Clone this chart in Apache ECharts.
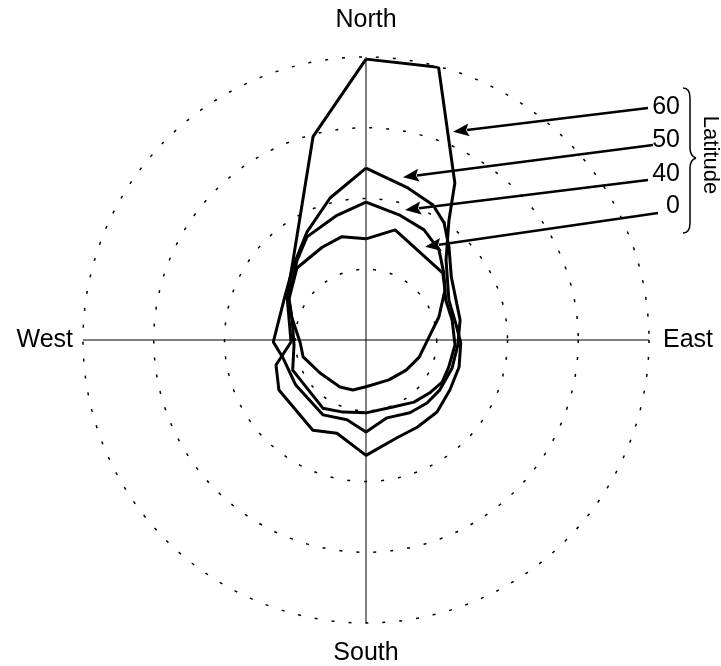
<!DOCTYPE html>
<html>
<head>
<meta charset="utf-8">
<script src="https://cdn.jsdelivr.net/npm/echarts@6/dist/echarts.min.js"></script>
<style>html,body{margin:0;padding:0;background:#fff;}#c{width:721px;height:666px;}</style>
</head>
<body>
<div id="c"></div>
<script>
// Directions (angle axis, degrees clockwise from North)
const directionLabels = ['North', 'East', 'South', 'West'];
const latitudes = ['60', '50', '40', '0'];

// Latitude 60
const lat60Angle = [0, 14.9, 29.5, 34.7, 45, 64.3, 79.3, 91.8, 106.2, 120.8, 135.4, 149.6, 162.4, 180, 197.3, 210.5, 240.1, 254.5, 268.5, 298.6, 345.4];
const lat60R     = [3.97, 3.99, 2.55, 2.06, 1.60, 1.30, 1.29, 1.34, 1.37, 1.38, 1.43, 1.43, 1.45, 1.63, 1.38, 1.48, 1.42, 1.32, 1.06, 1.27, 2.97];
// Latitude 50
const lat50Angle = [0, 15.4, 26.4, 33.7, 41.8, 53.5, 78.0, 93.1, 108.0, 124.0, 135.9, 148.9, 164.9, 180, 193.4, 209.8, 237.3, 257.8, 268.8, 296.0, 315, 331.4, 345.8];
const lat50R     = [2.43, 2.23, 2.13, 1.99, 1.76, 1.50, 1.36, 1.30, 1.28, 1.26, 1.24, 1.20, 1.14, 1.30, 1.16, 1.22, 1.18, 1.20, 1.31, 1.29, 1.46, 1.74, 2.07];
// Latitude 40
const lat40Angle = [0, 14.8, 27.8, 39.0, 49.3, 63.4, 76.9, 93.2, 108.0, 118.9, 129.6, 142.3, 158.1, 180, 197.7, 212.3, 247.7, 266.0, 285.1, 299.2, 319.2, 330.2, 346.9];
const lat40R     = [1.95, 1.83, 1.76, 1.64, 1.45, 1.26, 1.25, 1.26, 1.23, 1.23, 1.17, 1.11, 1.02, 1.03, 1.07, 1.14, 1.12, 1.02, 1.08, 1.25, 1.49, 1.68, 1.81];
// Latitude 0
const lat0Angle  = [0, 14.8, 49.0, 57.7, 72.5, 92.9, 107.8, 126.9, 150.1, 180, 194.6, 209.0, 234.3, 254.9, 267.4, 287.3, 297.5, 316.2, 334.7, 346.9];
const lat0R      = [1.43, 1.61, 1.44, 1.32, 1.08, 0.85, 0.79, 0.71, 0.65, 0.66, 0.73, 0.76, 0.80, 0.92, 0.93, 1.10, 1.23, 1.41, 1.45, 1.50];

// Arrow tip anchors on each curve [radius, angle]
const arrowTips = [[3.19, 22.7], [2.36, 12.8], [1.92, 16.7], [1.56, 32.4]];

function closed(angles, radii) {
  const d = angles.map((a, i) => [radii[i], a]);
  d.push([radii[0], 360]);
  return d;
}
const curves = [
  closed(lat60Angle, lat60R),
  closed(lat50Angle, lat50R),
  closed(lat40Angle, lat40R),
  closed(lat0Angle, lat0R)
];

const chart = echarts.init(document.getElementById('c'), null, {renderer: 'canvas'});
const FONT = 'Liberation Sans, Arial, sans-serif';

chart.setOption({
  animation: false,
  backgroundColor: '#fff',
  polar: { center: [366, 340], radius: 283 },
  angleAxis: {
    type: 'value', min: 0, max: 360, interval: 90,
    startAngle: 90, clockwise: true,
    axisLine: { show: false },
    axisTick: { show: false },
    axisLabel: { show: false },
    splitLine: { show: true, lineStyle: { color: '#000', width: 1, type: 'solid' } }
  },
  radiusAxis: {
    type: 'value', min: 0, max: 4, interval: 1,
    axisLine: { show: false },
    axisTick: { show: false },
    axisLabel: { show: false },
    splitLine: { show: true, lineStyle: { color: '#000', width: 1.5, type: [3, 14] } }
  },
  series: curves.map((d, i) => ({
    name: latitudes[i],
    type: 'line',
    coordinateSystem: 'polar',
    data: d,
    symbol: 'none',
    smooth: false,
    clip: false,
    lineStyle: { color: '#000', width: 3 },
    z: 5
  }))
});

// Annotations
const labelPos = [[680, 107], [680, 140], [680, 174], [680, 206]];
const arrowStart = [[648, 108], [653, 145], [648, 180], [658, 213]];
const graphics = [];

// Direction labels
graphics.push({ type: 'text', style: { text: directionLabels[0], x: 366, y: 20, font: '25px ' + FONT, fill: '#000', align: 'center', verticalAlign: 'middle' } });
graphics.push({ type: 'text', style: { text: directionLabels[1], x: 663, y: 340, font: '25px ' + FONT, fill: '#000', align: 'left', verticalAlign: 'middle' } });
graphics.push({ type: 'text', style: { text: directionLabels[2], x: 366, y: 653, font: '25px ' + FONT, fill: '#000', align: 'center', verticalAlign: 'middle' } });
graphics.push({ type: 'text', style: { text: directionLabels[3], x: 73, y: 340, font: '25px ' + FONT, fill: '#000', align: 'right', verticalAlign: 'middle' } });

latitudes.forEach((lab, i) => {
  graphics.push({ type: 'text', z: 20, style: { text: lab, x: labelPos[i][0], y: labelPos[i][1], font: '25px ' + FONT, fill: '#000', align: 'right', verticalAlign: 'middle' } });
  const tip = chart.convertToPixel({ seriesIndex: i }, arrowTips[i]);
  const s = arrowStart[i];
  const dx = tip[0] - s[0], dy = tip[1] - s[1];
  const len = Math.sqrt(dx * dx + dy * dy);
  const ux = dx / len, uy = dy / len;
  const hl = 16, hw = 6.5;
  const bx = tip[0] - ux * hl, by = tip[1] - uy * hl;
  graphics.push({ type: 'line', z: 19, shape: { x1: s[0], y1: s[1], x2: bx + ux * 2, y2: by + uy * 2 }, style: { stroke: '#000', lineWidth: 2.5 } });
  graphics.push({ type: 'polygon', z: 19, shape: { points: [[tip[0], tip[1]], [bx - uy * hw, by + ux * hw], [bx + ux * 3, by + uy * 3], [bx + uy * hw, by - ux * hw]] }, style: { fill: '#000' } });
});

// Brace
const braceStyle = { stroke: '#000', lineWidth: 1.5, fill: null };
graphics.push({ type: 'bezierCurve', z: 20, shape: { x1: 683, y1: 88, cpx1: 690, cpy1: 88, x2: 690, y2: 98 }, style: braceStyle });
graphics.push({ type: 'line', z: 20, shape: { x1: 690, y1: 98, x2: 690, y2: 148 }, style: braceStyle });
graphics.push({ type: 'bezierCurve', z: 20, shape: { x1: 690, y1: 148, cpx1: 690, cpy1: 156, x2: 696, y2: 158 }, style: braceStyle });
graphics.push({ type: 'bezierCurve', z: 20, shape: { x1: 696, y1: 158, cpx1: 690, cpy1: 160, x2: 690, y2: 168 }, style: braceStyle });
graphics.push({ type: 'line', z: 20, shape: { x1: 690, y1: 168, x2: 690, y2: 223 }, style: braceStyle });
graphics.push({ type: 'bezierCurve', z: 20, shape: { x1: 690, y1: 223, cpx1: 690, cpy1: 233, x2: 683, y2: 233 }, style: braceStyle });
graphics.push({ type: 'text', z: 20, x: 710, y: 155, rotation: -Math.PI / 2, style: { text: 'Latitude', x: 0, y: 0, font: '22px ' + FONT, fill: '#000', align: 'center', verticalAlign: 'middle' } });

chart.setOption({ graphic: graphics });
</script>
</body>
</html>
